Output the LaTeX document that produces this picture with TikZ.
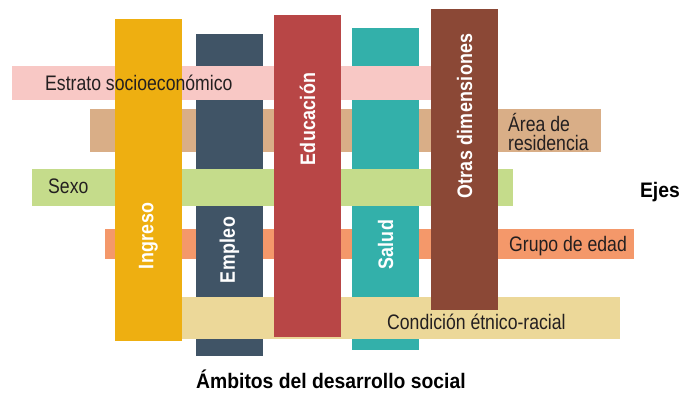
\documentclass[tikz,border=0pt]{standalone}
\usepackage{fontspec}
\setmainfont{Liberation Sans}
\newfontfamily\labfont{Liberation Sans}[FakeStretch=0.84]
\newfontfamily\vlabfont{Liberation Sans Bold}[FakeStretch=0.85, LetterSpace=1.5]
\newfontfamily\titfont{Liberation Sans Bold}[FakeStretch=0.92]
\definecolor{cIng}{HTML}{EEAF11}
\definecolor{cEmp}{HTML}{405466}
\definecolor{cEdu}{HTML}{B84646}
\definecolor{cSal}{HTML}{33B0AA}
\definecolor{cOtr}{HTML}{8B4836}
\definecolor{cEst}{HTML}{F8C8C5}
\definecolor{cAre}{HTML}{D9AE87}
\definecolor{cSex}{HTML}{C5DC8B}
\definecolor{cGru}{HTML}{F4986A}
\definecolor{cCon}{HTML}{ECD899}
\definecolor{cTxt}{HTML}{231F20}
\tikzset{
  bar/.style={rectangle, inner sep=0pt, outer sep=0pt, anchor=north west, draw=none},
  hlab/.style={inner sep=0pt, anchor=base west, text=cTxt, font=\labfont\fontsize{21}{19}\selectfont},
  vlab/.style={inner sep=0pt, rotate=90, text=white, font=\vlabfont\fontsize{21}{21}\selectfont},
  tlab/.style={inner sep=0pt, anchor=base west, text=black, font=\titfont\fontsize{21}{21}\selectfont}
}
\begin{document}
\begin{tikzpicture}[x=1pt,y=-1pt]
\useasboundingbox (0,0) rectangle (681,393);
% horizontal bars underneath all columns
\node[bar, fill=cAre, minimum width=511pt, minimum height=43pt] (are) at (90,109) {};
\node[bar, fill=cGru, minimum width=529pt, minimum height=30pt] (gru) at (105,229) {};
% columns beneath some bars
\node[bar, fill=cEmp, minimum width=67pt, minimum height=322pt] (emp) at (196,34) {};
\node[bar, fill=cSal, minimum width=67pt, minimum height=322pt] (sal) at (352,28) {};
% bars above Empleo and Salud
\node[bar, fill=cEst, minimum width=428pt, minimum height=34pt] (est) at (12,66) {};
\node[bar, fill=cSex, minimum width=481pt, minimum height=37pt] (sex) at (32,169) {};
\node[bar, fill=cCon, minimum width=438pt, minimum height=42pt] (con) at (182,297) {};
% top columns
\node[bar, fill=cIng, minimum width=67pt, minimum height=322pt] (ing) at (115,19) {};
\node[bar, fill=cEdu, minimum width=67pt, minimum height=322pt] (edu) at (274,15) {};
\node[bar, fill=cOtr, minimum width=67pt, minimum height=301pt] (otr) at (431,9) {};
% column labels
\node[vlab] (lIng) at (148.5,236) {Ingreso};
\node[vlab] (lEmp) at (229.5,250) {Empleo};
\node[vlab] (lEdu) at (307.5,119) {Educación};
\node[vlab] (lSal) at (385.5,245) {Salud};
\node[vlab] (lOtr) at (464.5,116) {Otras dimensiones};
% bar labels
\node[hlab] (lEst) at (45,91) {Estrato socioeconómico};
\node[hlab, anchor=west, align=left] (lAre) at (508,132) {Área de\\residencia};
\node[hlab] (lSex) at (48,194) {Sexo};
\node[hlab] (lGru) at (509,252) {Grupo de edad};
\node[hlab] (lCon) at (387,329) {Condición étnico-racial};
% titles
\node[tlab, anchor=base east] (ejes) at (680,198) {Ejes};
\node[tlab] (amb) at (196,388) {Ámbitos del desarrollo social};
\end{tikzpicture}
\end{document}
